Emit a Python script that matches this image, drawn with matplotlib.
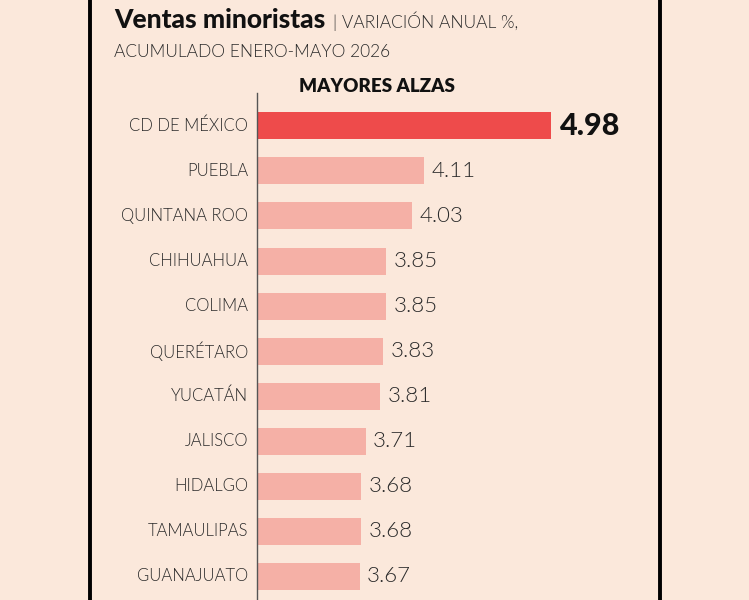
import matplotlib
matplotlib.use("Agg")
import matplotlib.pyplot as plt

estados = ["CD DE MÉXICO", "PUEBLA", "QUINTANA ROO", "CHIHUAHUA", "COLIMA",
           "QUERÉTARO", "YUCATÁN", "JALISCO", "HIDALGO", "TAMAULIPAS", "GUANAJUATO"]
variacion = [4.98, 4.11, 4.03, 3.85, 3.85, 3.83, 3.81, 3.71, 3.68, 3.68, 3.67]

fondo = "#fbe8db"
rojo = "#ee4b4b"
rosa = "#f5b0a6"
texto = "#2a2a2a"
fuente = "Lato"

W, H = 749, 600
fig = plt.figure(figsize=(W / 100, H / 100), dpi=100, facecolor=fondo)

# marco negro a los lados
for xl in (90, 660):
    fig.add_artist(plt.Line2D([xl / W, xl / W], [0, 1], color="black", lw=2.8))

# titulos
fig.text(114 / W, 1 - 28 / H, "Ventas minoristas", fontsize=19, fontweight=900,
         family=fuente, color="#111111", va="baseline")
fig.text(333 / W, 1 - 28 / H, "| VARIACIÓN ANUAL %,", fontsize=12.5, fontweight=300,
         family=fuente, color=texto, va="baseline")
fig.text(114 / W, 1 - 57 / H, "ACUMULADO ENERO-MAYO 2026", fontsize=12.5, fontweight=300,
         family=fuente, color=texto, va="baseline")
fig.text(377 / W, 1 - 86 / H, "MAYORES ALZAS", fontsize=13.5, fontweight="heavy",
         family=fuente, color="#111111", ha="center", va="center")

ax = fig.add_axes([257 / W, 0, (640 - 257) / W, (600 - 93) / H])
ax.set_facecolor("none")

pos = list(range(len(estados)))
colores = [rojo] + [rosa] * (len(estados) - 1)
x0 = 2.965
ax.barh(pos, [v - x0 for v in variacion], left=x0, height=0.6, color=colores)

for i, (e, v) in enumerate(zip(estados, variacion)):
    ax.text(x0 - 0.06, i, e, ha="right", va="center", fontsize=12,
            fontweight=300, family=fuente, color=texto)
    if i == 0:
        ax.text(v + 0.06, i, f"{v:.2f}", ha="left", va="center", fontsize=22,
                fontweight=900, family=fuente, color="#111111")
    else:
        ax.text(v + 0.05, i, f"{v:.2f}", ha="left", va="center", fontsize=16,
                fontweight=300, family=fuente, color=texto)

ax.set_xlim(x0, x0 + (640 - 257) / 146)
ax.set_ylim((600 - 126) / 45, -33 / 45)
ax.set_xticks([])
ax.set_yticks([])
for s in ["top", "right", "bottom"]:
    ax.spines[s].set_visible(False)
ax.spines["left"].set_color("#555555")
ax.spines["left"].set_linewidth(1)

fig.savefig("out.png", dpi=100, facecolor=fondo)
